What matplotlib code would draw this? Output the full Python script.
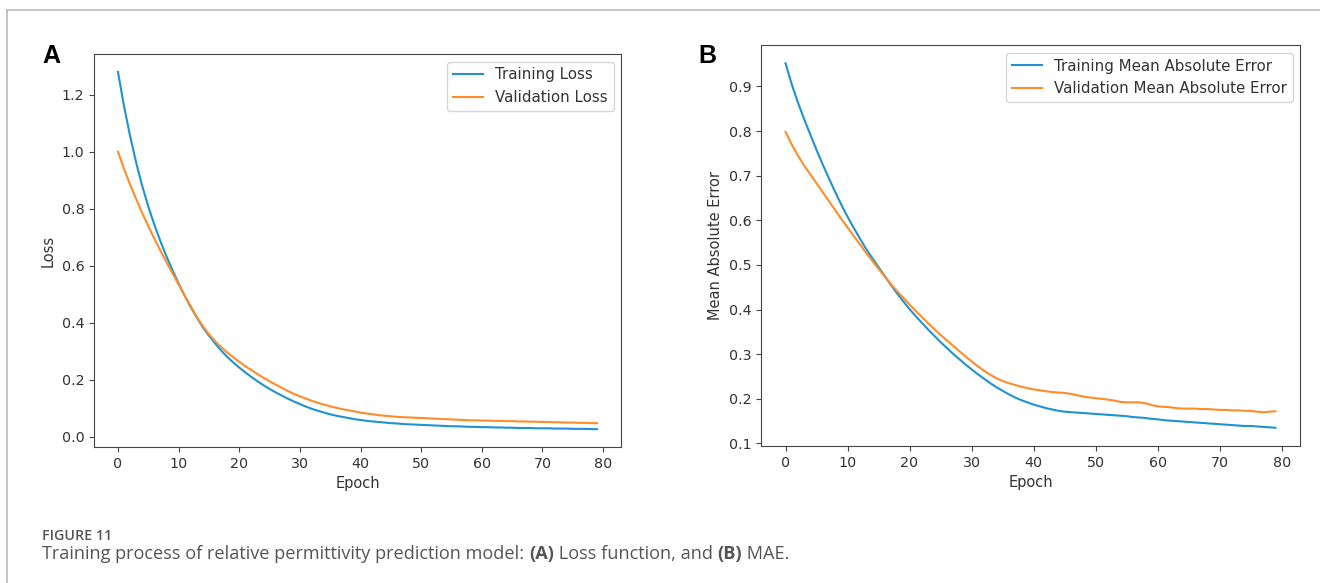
import matplotlib
matplotlib.use("Agg")
import matplotlib.pyplot as plt
from matplotlib.lines import Line2D

epochs = list(range(80))

train_loss = [1.28, 1.16, 1.055, 0.962, 0.88, 0.808, 0.744, 0.686, 0.633, 0.584,
              0.538, 0.495, 0.455, 0.418, 0.384, 0.355, 0.328, 0.303, 0.281, 0.261,
              0.243, 0.226, 0.210, 0.195, 0.181, 0.168, 0.156, 0.145, 0.134, 0.124,
              0.115, 0.106, 0.098, 0.091, 0.085, 0.079, 0.074, 0.070, 0.066, 0.062,
              0.059, 0.056, 0.054, 0.052, 0.050, 0.048, 0.047, 0.045, 0.044, 0.043,
              0.042, 0.041, 0.040, 0.039, 0.038, 0.037, 0.037, 0.036, 0.035, 0.035,
              0.034, 0.034, 0.033, 0.033, 0.032, 0.032, 0.031, 0.031, 0.031, 0.030,
              0.030, 0.030, 0.029, 0.029, 0.029, 0.028, 0.028, 0.028, 0.027, 0.027]

val_loss = [1.00, 0.94, 0.885, 0.834, 0.785, 0.739, 0.695, 0.653, 0.613, 0.573,
            0.535, 0.495, 0.458, 0.42, 0.388, 0.36, 0.336, 0.315, 0.296, 0.279,
            0.263, 0.248, 0.234, 0.220, 0.207, 0.195, 0.183, 0.172, 0.161, 0.151,
            0.142, 0.134, 0.126, 0.119, 0.113, 0.107, 0.102, 0.097, 0.093, 0.089,
            0.085, 0.082, 0.079, 0.076, 0.074, 0.072, 0.070, 0.069, 0.068, 0.067,
            0.066, 0.065, 0.064, 0.063, 0.062, 0.061, 0.060, 0.059, 0.058, 0.058,
            0.057, 0.057, 0.056, 0.056, 0.055, 0.055, 0.054, 0.054, 0.053, 0.053,
            0.052, 0.052, 0.051, 0.051, 0.050, 0.050, 0.049, 0.049, 0.048, 0.048]

train_mae = [0.952, 0.905, 0.864, 0.827, 0.792, 0.758, 0.725, 0.694, 0.664, 0.635,
             0.608, 0.583, 0.559, 0.536, 0.515, 0.495, 0.475, 0.455, 0.436, 0.418,
             0.401, 0.385, 0.370, 0.355, 0.341, 0.327, 0.314, 0.301, 0.289, 0.277,
             0.266, 0.255, 0.245, 0.235, 0.226, 0.218, 0.210, 0.203, 0.197, 0.192,
             0.187, 0.183, 0.179, 0.176, 0.173, 0.171, 0.170, 0.169, 0.168, 0.167,
             0.166, 0.165, 0.164, 0.163, 0.162, 0.161, 0.159, 0.158, 0.157, 0.155,
             0.154, 0.152, 0.151, 0.150, 0.149, 0.148, 0.147, 0.146, 0.145, 0.144,
             0.143, 0.142, 0.141, 0.140, 0.139, 0.139, 0.138, 0.137, 0.136, 0.135]

val_mae = [0.798, 0.770, 0.745, 0.723, 0.703, 0.683, 0.663, 0.643, 0.623, 0.603,
           0.584, 0.565, 0.546, 0.527, 0.509, 0.491, 0.474, 0.457, 0.441, 0.426,
           0.411, 0.397, 0.383, 0.369, 0.356, 0.343, 0.331, 0.319, 0.307, 0.295,
           0.284, 0.273, 0.263, 0.254, 0.246, 0.240, 0.235, 0.231, 0.227, 0.224,
           0.221, 0.219, 0.217, 0.215, 0.214, 0.213, 0.211, 0.208, 0.205, 0.203,
           0.201, 0.200, 0.198, 0.196, 0.193, 0.192, 0.192, 0.192, 0.190, 0.186,
           0.183, 0.182, 0.181, 0.179, 0.178, 0.178, 0.178, 0.177, 0.177, 0.176,
           0.175, 0.175, 0.174, 0.174, 0.173, 0.173, 0.171, 0.170, 0.171, 0.172]

BLUE = "#1f93d0"
ORANGE = "#ff8c2a"

plt.rcParams["font.family"] = ["DejaVu Sans"]
plt.rcParams["font.size"] = 10.5
TXT = "#333333"

fig = plt.figure(figsize=(13.2, 5.83), dpi=100)

# outer frame lines (top and left)
fig.add_artist(Line2D([7/1320, 1.0], [1 - 10/583, 1 - 10/583], color="#bbbbbb", lw=1.2, transform=fig.transFigure))
fig.add_artist(Line2D([7/1320, 7/1320], [0, 1 - 10/583], color="#bbbbbb", lw=1.2, transform=fig.transFigure))

axA = fig.add_axes([94/1320, (583-447)/583, (621-94)/1320, (447-54)/583])
axB = fig.add_axes([761/1320, (583-446)/583, (1300-761)/1320, (446-45)/583])

axA.plot(epochs, train_loss, color=BLUE, lw=1.5, label="Training Loss")
axA.plot(epochs, val_loss, color=ORANGE, lw=1.5, label="Validation Loss")
axA.set_xlabel("Epoch", color=TXT)
axA.set_ylabel("Loss", color=TXT)
axA.set_yticks([0.0, 0.2, 0.4, 0.6, 0.8, 1.0, 1.2])

axB.plot(epochs, train_mae, color=BLUE, lw=1.5, label="Training Mean Absolute Error")
axB.plot(epochs, val_mae, color=ORANGE, lw=1.5, label="Validation Mean Absolute Error")
axB.set_xlabel("Epoch", color=TXT)
axB.set_ylabel("Mean Absolute Error", color=TXT)
axB.set_yticks([0.1, 0.2, 0.3, 0.4, 0.5, 0.6, 0.7, 0.8, 0.9])

for ax in (axA, axB):
    ax.set_xticks([0, 10, 20, 30, 40, 50, 60, 70, 80])
    ax.tick_params(colors="#444444", labelcolor=TXT, labelsize=10.3)
    for s in ax.spines.values():
        s.set_color("#444444")
    ax.legend(loc="upper right", fontsize=10.8, labelcolor=TXT)

fig.text(42/1320, 1 - 56/583, "A", fontsize=18, fontweight="bold", family="Liberation Sans", va="center", ha="left")
fig.text(698/1320, 1 - 56/583, "B", fontsize=18, fontweight="bold", family="Liberation Sans", va="center", ha="left")

fig.text(42/1320, 1 - 540/583, "FIGURE 11", fontsize=10.3, family="Open Sans", fontweight="semibold", color="#555555", va="baseline")
cap_y = 1 - 559/583
t1 = fig.text(42/1320, cap_y, "Training process of relative permittivity prediction model: ", fontsize=13.1, family="Open Sans", color="#555555", va="baseline")
fig.canvas.draw()
r = fig.canvas.get_renderer()
bb = t1.get_window_extent(r)
x = bb.x1 / fig.bbox.width
parts = [("(A)", "bold"), (" Loss function, and ", "normal"), ("(B)", "bold"), (" MAE.", "normal")]
for s, w in parts:
    t = fig.text(x, cap_y, s, fontsize=13.1, family="Open Sans", fontweight=w, color="#555555", va="baseline")
    bb = t.get_window_extent(r)
    x = bb.x1 / fig.bbox.width

fig.savefig("out.png", dpi=100)
